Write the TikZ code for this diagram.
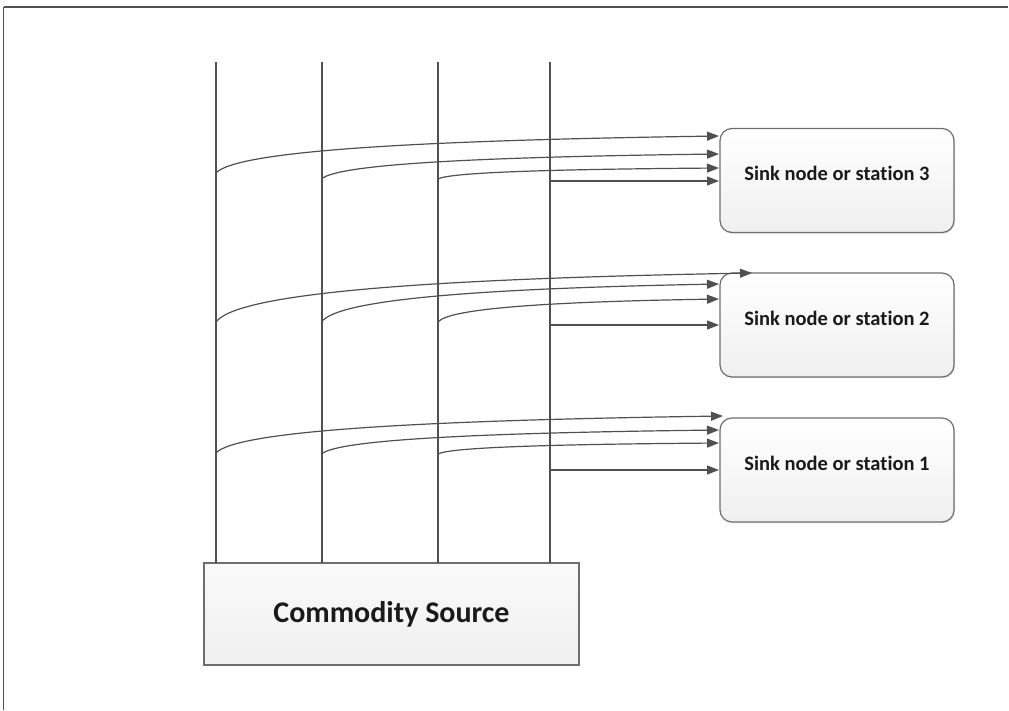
\documentclass[tikz,border=0pt]{standalone}
\usepackage{fontspec}
\setmainfont{Carlito}[Ligatures=NoCommon]
\usetikzlibrary{calc,arrows.meta,shadows}
\definecolor{ln}{HTML}{505050}
\definecolor{bd}{HTML}{6E6E6E}
\definecolor{tx}{HTML}{1A1A1A}
\begin{document}
\begin{tikzpicture}[x=1pt,y=-1pt,
  frameline/.style={draw=ln,line width=2pt},
  vline/.style={draw=ln,line width=2pt},
  flow/.style={draw=ln,line width=1.2pt,-{Triangle[length=12pt,width=9pt]}},
  bendto/.style={to path={let \p1=(\tikztostart),\p2=(\tikztotarget) in
     .. controls ({\x1+0.04*(\x2-\x1)},{\y1+0.6*(\y2-\y1)})
        and ({\x1+0.4*(\x2-\x1)},{\y1+0.88*(\y2-\y1)}) .. (\tikztotarget)}},
  boxshadow/.style={drop shadow={shadow xshift=1pt,shadow yshift=-1.2pt,opacity=.12,fill=black}},
  sinkbox/.style={draw=bd,line width=1.2pt,rounded corners=12pt,top color=white,bottom color=black!6,
     minimum width=234pt,minimum height=104pt,inner sep=0pt,boxshadow,
     text=tx,font=\fontsize{20.5}{24}\selectfont\bfseries,text height=10pt,text depth=10pt},
  srcbox/.style={draw=bd,line width=1.2pt,top color=black!2,bottom color=black!6,
     minimum width=375pt,minimum height=102pt,inner sep=0pt,boxshadow,
     text=tx,font=\fontsize{30}{36}\selectfont\bfseries}]
\useasboundingbox (0,0) rectangle (1009,710);
\fill[white] (0,0) rectangle (1009,710);
% frame
\coordinate (fl) at (3.5,7);
\coordinate (fr) at (1008,7);
\coordinate (fb) at (3.5,710);
\draw[frameline] (fl) -- (fr);
\draw[draw=ln,line width=1.3pt] (fl) -- (fb);

% boxes
\node[srcbox] (src) at (391.5,614) {Commodity Source};
\node[sinkbox] (s3) at (837,180.5) {Sink node or station 3};
\node[sinkbox] (s2) at (837,325) {Sink node or station 2};
\node[sinkbox] (s1) at (837,470) {Sink node or station 1};

% vertical lines
\foreach \i/\x in {1/216,2/321.5,3/438,4/549.5}{
  \coordinate (t\i) at (\x,62);
  \coordinate (b\i) at (\x,563);
  \draw[vline] (t\i) -- (b\i);
}

% start points on the vertical lines
\coordinate (a3) at (216,173);   \coordinate (c3) at (321.5,179);
\coordinate (d3) at (438,179);   \coordinate (e3) at (549.5,181);
\coordinate (a2) at (216,322);   \coordinate (c2) at (321.5,322);
\coordinate (d2) at (438,322);   \coordinate (e2) at (549.5,325);
\coordinate (a1) at (216,453);   \coordinate (c1) at (321.5,454);
\coordinate (d1) at (438,454);   \coordinate (e1) at (549.5,470);

% arrow tips at the sinks
\coordinate (ta3) at (719,136);  \coordinate (tc3) at (719,154);
\coordinate (td3) at (719,168);  \coordinate (te3) at (719,181);
\coordinate (ta2) at (752,273);  \coordinate (tc2) at (719,284);
\coordinate (td2) at (719,299);  \coordinate (te2) at (719,325);
\coordinate (ta1) at (723,416);  \coordinate (tc1) at (719,430);
\coordinate (td1) at (719,443);  \coordinate (te1) at (719,470);

\foreach \k in {1,2,3}{
  \draw[flow] (a\k) to[bendto] (ta\k);
  \draw[flow] (c\k) to[bendto] (tc\k);
  \draw[flow] (d\k) to[bendto] (td\k);
  \draw[flow] (e\k) -- (te\k);
}
\end{tikzpicture}
\end{document}
